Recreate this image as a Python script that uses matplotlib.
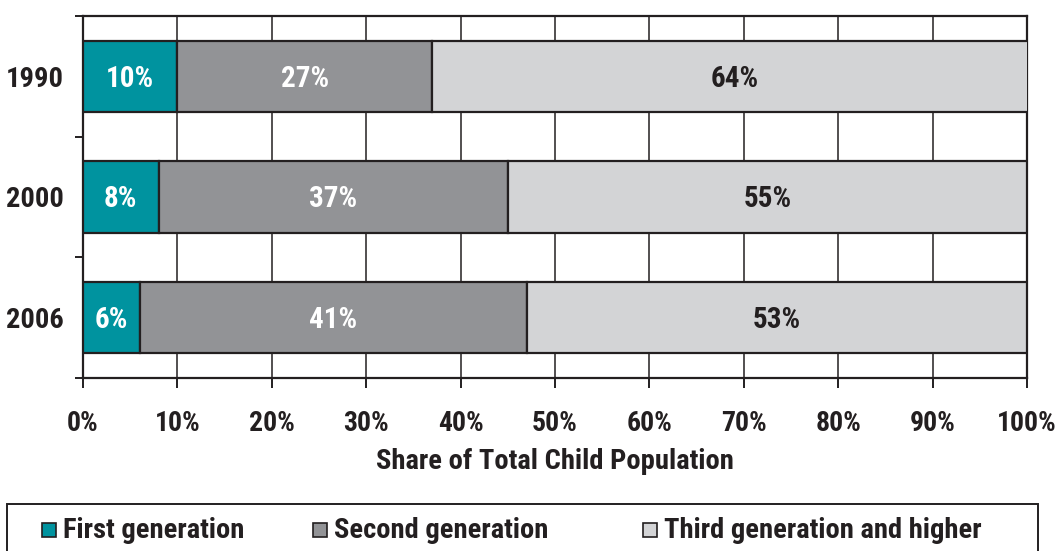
import matplotlib.pyplot as plt
from matplotlib.patches import Rectangle
from matplotlib.ticker import FixedLocator

plt.rcParams['font.family'] = ['Roboto Condensed', 'PT Sans Narrow', 'DejaVu Sans']
plt.rcParams['font.weight'] = 'bold'

# shares of the child population by immigrant generation
years = ["1990", "2000", "2006"]
first_gen = [10, 8, 6]
second_gen = [27, 37, 41]
third_gen = [64, 55, 53]
series_names = ["First generation", "Second generation", "Third generation and higher"]
x_ticks = [0, 10, 20, 30, 40, 50, 60, 70, 80, 90, 100]

colors = ["#00939f", "#929396", "#d3d4d6"]
label_colors = ["white", "white", "#231f20"]
edge = "#231f20"

fig = plt.figure(figsize=(10.64, 5.51), dpi=100)
ax = fig.add_axes([0.078, 0.314, 0.8872, 0.657])

ypos = list(range(len(years)))
left = [0] * len(years)
for vals, col, lcol, name in zip([first_gen, second_gen, third_gen], colors, label_colors, series_names):
    bars = ax.barh(ypos, vals, left=left, height=0.59, color=col, edgecolor=edge,
                   linewidth=1.6, zorder=3, label=name)
    for y, l, v in zip(ypos, left, vals):
        ax.text(l + v / 2, y + 0.02, f"{v}%", ha="center", va="center", color=lcol,
                fontsize=21, fontweight="bold", zorder=4)
    left = [a + b for a, b in zip(left, vals)]

ax.set_xlim(0, 100)
ax.set_ylim(2.5, -0.5)
ax.set_xticks(x_ticks)
ax.set_xticklabels([f"{t}%" for t in x_ticks])
ax.set_yticks(ypos)
ax.set_yticklabels(years)
ax.yaxis.set_minor_locator(FixedLocator([-0.5, 0.5, 1.5, 2.5]))

ax.tick_params(axis="y", which="major", length=0, pad=14, labelsize=20.5, labelcolor=edge)
ax.tick_params(axis="y", which="minor", length=6, width=1.4, color=edge)
ax.tick_params(axis="x", which="major", length=7, width=1.4, color=edge, pad=16,
               labelsize=20, labelcolor=edge)

ax.grid(axis="x", color=edge, linewidth=1.1, zorder=0)
for s in ax.spines.values():
    s.set_color(edge)
    s.set_linewidth(1.6)

ax.set_xlabel("Share of Total Child Population", fontsize=20.5, fontweight="bold",
              color=edge, labelpad=8)

# legend box along the bottom edge
fig.patches.append(Rectangle((0.0066, -0.05), 0.969, 0.1353, transform=fig.transFigure,
                             fill=False, edgecolor=edge, linewidth=1.4))
legend_x = [0.0395, 0.2942, 0.6043]
for x, col, name in zip(legend_x, colors, series_names):
    fig.patches.append(Rectangle((x, 0.0254), 0.0132, 0.0254, transform=fig.transFigure,
                                 facecolor=col, edgecolor=edge, linewidth=1.2))
    fig.text(x + 0.0195, 0.0363, name, ha="left", va="center", fontsize=20.5,
             fontweight="bold", color=edge)

fig.savefig("out.png", dpi=100)
